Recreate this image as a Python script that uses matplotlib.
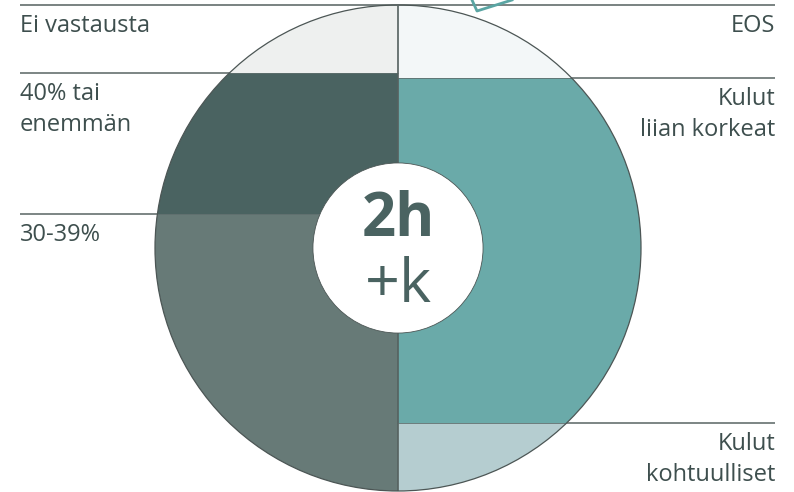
import matplotlib.pyplot as plt
from matplotlib.patches import Circle
import numpy as np

plt.rcParams['font.family'] = ['Open Sans', 'DejaVu Sans']

# left half (top -> bottom), share of circle height in %
left_labels = ["Ei vastausta", "40% tai\nenemmän", "30-39%"]
left_values = [14, 29, 57]
left_colors = ["#eef0ef", "#4a6361", "#677a77"]

# right half (top -> bottom)
right_labels = ["EOS", "Kulut\nliian korkeat", "Kulut\nkohtuulliset"]
right_values = [15, 71, 14]
right_colors = ["#f3f7f8", "#6aaaa9", "#b5cdd0"]

center_big = "2h"
center_small = "+k"

text_col = "#3e4f4e"
line_col = "#7c8584"

# geometry in pixels of the reference
W, H = 794, 492
cx_px, cy_px, r_px = 398, 248, 243
u = r_px / 50.0  # pixels per data unit (circle = 100 units tall)

fig = plt.figure(figsize=(W / 100, H / 100), dpi=100)
ax = fig.add_axes([0, 0, 1, 1])
ax.set_xlim(-cx_px / u, (W - cx_px) / u)
ax.set_ylim(50 + (H - cy_px) / u, 50 - cy_px / u)
ax.axis('off')

x_left = (20 - cx_px) / u
x_right = (775 - cx_px) / u
lab_size = 17

circle = Circle((0, 50), 50, transform=ax.transData, facecolor='none')

def draw_half(values, colors, labels, side):
    xc = -25 if side == "left" else 25
    bottom = 0
    for v, c, lab in zip(values, colors, labels):
        bar = ax.bar(xc, v, width=50, bottom=bottom, color=c, edgecolor='none', zorder=2)
        for p in bar:
            p.set_clip_path(circle)
        # leader line at top of band
        if side == "left":
            ax.hlines(bottom, x_left, 0, color=line_col, lw=1.4, zorder=1)
            ax.text(x_left, bottom + 1.8, lab, ha='left', va='top', fontsize=lab_size,
                    color=text_col, linespacing=1.42)
        else:
            ax.hlines(bottom, 0, x_right, color=line_col, lw=1.4, zorder=1)
            ax.text(x_right, bottom + 1.8, lab, ha='right', va='top', fontsize=lab_size,
                    color=text_col, linespacing=1.42)
        # boundary line inside the circle
        if bottom > 0:
            ln = ax.hlines(bottom, -50 if side == "left" else 0, 0 if side == "left" else 50,
                           color="#5f6f6e", lw=0.6, zorder=3)
            ln.set_clip_path(circle)
        bottom += v

draw_half(left_values, left_colors, left_labels, "left")
draw_half(right_values, right_colors, right_labels, "right")

# top line across
ax.hlines(0, x_left, x_right, color=line_col, lw=1.4, zorder=4)

# divider between halves
ax.vlines(0, 0, 100, color="#55615f", lw=1.2, zorder=3)

# outline
ax.add_patch(Circle((0, 50), 50, facecolor='none', edgecolor="#4c5655", lw=0.9, zorder=4))

# inner white disc
ax.add_patch(Circle((0, 50), 17.5, facecolor='white', edgecolor="#4c5655", lw=0.6, zorder=5))
ax.text(0, 47.6, center_big, ha='center', va='baseline', fontsize=43, fontweight='bold',
        color="#4a6361", zorder=6)
ax.text(0, 61.1, center_small, ha='center', va='baseline', fontsize=44, color="#4a6361", zorder=6)

# decorative teal shape cut off at top
ax.plot(np.array([472, 477, 512]) / u - cx_px / u,
        50 + (np.array([0, 11, 0]) - cy_px) / u, color="#5aa5a3", lw=2, zorder=6,
        clip_on=True)

fig.savefig("out.png", dpi=100)
